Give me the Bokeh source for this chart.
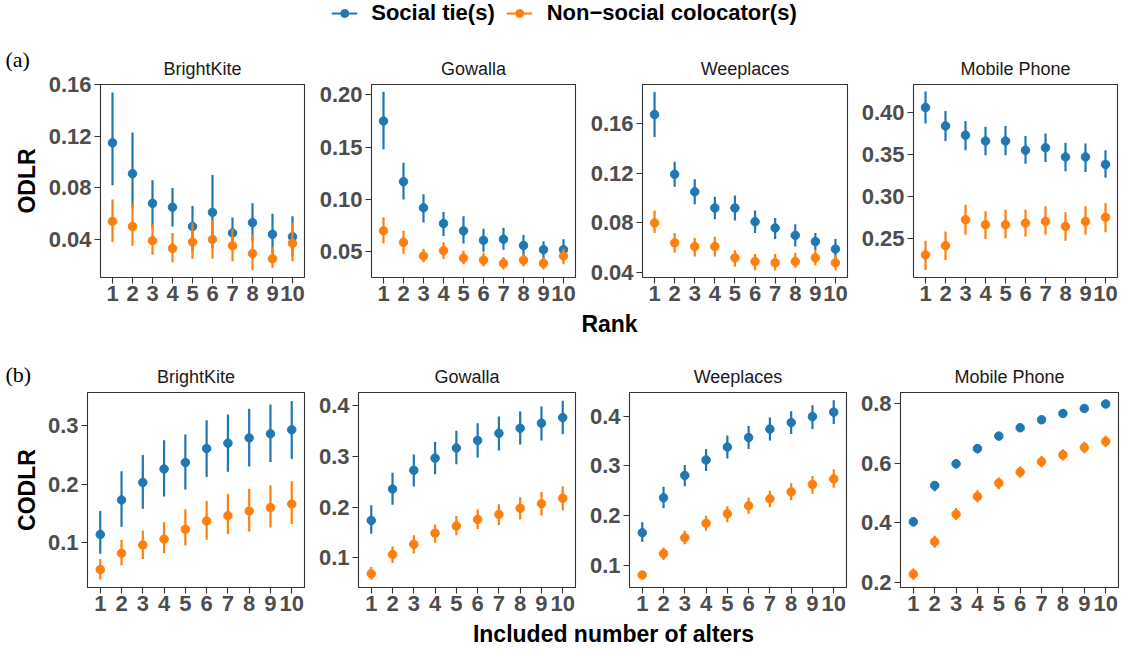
import math
from bokeh.plotting import figure
from bokeh.layouts import column, row
from bokeh.models import (Range1d, FixedTicker, NumeralTickFormatter, Legend,
                          LegendItem, ColumnDataSource)
from bokeh.core.properties import value
from bokeh.embed import file_html
from bokeh.resources import INLINE

BLUE = "#1F77B4"
ORANGE = "#FF7F0E"
FONT = "Liberation Sans"

ranks = [1, 2, 3, 4, 5, 6, 7, 8, 9, 10]
rank_ticks = ranks
datasets = ["BrightKite", "Gowalla", "Weeplaces", "Mobile Phone"]
series_names = ["Social tie(s)", "Non\u2212social colocator(s)"]

# ---------------- (a) ODLR by rank ----------------
a_bk_soc = [0.115, 0.091, 0.068, 0.065, 0.050, 0.061, 0.045, 0.053, 0.044, 0.042]
a_bk_soc_lo = [0.082, 0.064, 0.049, 0.050, 0.031, 0.033, 0.035, 0.039, 0.029, 0.027]
a_bk_soc_hi = [0.154, 0.123, 0.086, 0.080, 0.066, 0.090, 0.057, 0.068, 0.060, 0.058]
a_bk_non = [0.054, 0.050, 0.039, 0.033, 0.038, 0.040, 0.035, 0.029, 0.025, 0.037]
a_bk_non_lo = [0.038, 0.035, 0.028, 0.022, 0.025, 0.025, 0.023, 0.016, 0.018, 0.023]
a_bk_non_hi = [0.071, 0.068, 0.052, 0.045, 0.053, 0.055, 0.048, 0.044, 0.034, 0.053]

a_gw_soc = [0.175, 0.117, 0.092, 0.077, 0.070, 0.061, 0.062, 0.056, 0.052, 0.052]
a_gw_soc_lo = [0.148, 0.100, 0.078, 0.065, 0.058, 0.050, 0.052, 0.046, 0.043, 0.042]
a_gw_soc_hi = [0.203, 0.135, 0.105, 0.088, 0.084, 0.072, 0.073, 0.066, 0.060, 0.062]
a_gw_non = [0.070, 0.059, 0.046, 0.051, 0.044, 0.042, 0.039, 0.042, 0.039, 0.046]
a_gw_non_lo = [0.058, 0.048, 0.040, 0.043, 0.038, 0.036, 0.033, 0.036, 0.033, 0.038]
a_gw_non_hi = [0.083, 0.070, 0.053, 0.059, 0.051, 0.049, 0.045, 0.048, 0.045, 0.053]

a_wp_soc = [0.167, 0.119, 0.105, 0.092, 0.092, 0.081, 0.076, 0.070, 0.065, 0.059]
a_wp_soc_lo = [0.149, 0.109, 0.095, 0.083, 0.082, 0.072, 0.067, 0.061, 0.058, 0.049]
a_wp_soc_hi = [0.185, 0.129, 0.115, 0.101, 0.102, 0.090, 0.084, 0.079, 0.072, 0.067]
a_wp_non = [0.080, 0.064, 0.061, 0.061, 0.052, 0.049, 0.048, 0.049, 0.052, 0.048]
a_wp_non_lo = [0.072, 0.056, 0.053, 0.053, 0.045, 0.042, 0.042, 0.044, 0.046, 0.042]
a_wp_non_hi = [0.090, 0.072, 0.068, 0.069, 0.058, 0.055, 0.055, 0.056, 0.058, 0.054]

a_mp_soc = [0.406, 0.384, 0.373, 0.366, 0.366, 0.355, 0.358, 0.347, 0.347, 0.338]
a_mp_soc_lo = [0.387, 0.366, 0.355, 0.349, 0.349, 0.339, 0.341, 0.330, 0.329, 0.322]
a_mp_soc_hi = [0.425, 0.402, 0.390, 0.383, 0.384, 0.372, 0.375, 0.364, 0.363, 0.355]
a_mp_non = [0.230, 0.241, 0.272, 0.266, 0.266, 0.268, 0.270, 0.264, 0.270, 0.275]
a_mp_non_lo = [0.212, 0.224, 0.254, 0.249, 0.250, 0.252, 0.254, 0.247, 0.254, 0.257]
a_mp_non_hi = [0.247, 0.258, 0.290, 0.282, 0.284, 0.284, 0.288, 0.281, 0.288, 0.292]

# ---------------- (b) CODLR by number of alters ----------------
b_bk_soc = [0.114, 0.173, 0.203, 0.226, 0.237, 0.261, 0.270, 0.279, 0.286, 0.293]
b_bk_soc_lo = [0.081, 0.127, 0.158, 0.179, 0.191, 0.212, 0.221, 0.230, 0.238, 0.243]
b_bk_soc_hi = [0.154, 0.222, 0.250, 0.275, 0.285, 0.309, 0.319, 0.329, 0.336, 0.342]
b_bk_non = [0.054, 0.082, 0.096, 0.106, 0.123, 0.137, 0.146, 0.154, 0.160, 0.166]
b_bk_non_lo = [0.037, 0.061, 0.072, 0.082, 0.095, 0.105, 0.115, 0.119, 0.126, 0.132]
b_bk_non_hi = [0.072, 0.105, 0.121, 0.135, 0.157, 0.171, 0.183, 0.192, 0.198, 0.205]

b_gw_soc = [0.174, 0.236, 0.273, 0.297, 0.317, 0.332, 0.346, 0.356, 0.366, 0.377]
b_gw_soc_lo = [0.148, 0.205, 0.241, 0.265, 0.285, 0.298, 0.312, 0.324, 0.332, 0.344]
b_gw_soc_hi = [0.204, 0.268, 0.304, 0.329, 0.351, 0.366, 0.379, 0.389, 0.399, 0.410]
b_gw_non = [0.069, 0.107, 0.127, 0.149, 0.163, 0.176, 0.186, 0.198, 0.207, 0.218]
b_gw_non_lo = [0.057, 0.090, 0.109, 0.130, 0.145, 0.157, 0.165, 0.176, 0.184, 0.194]
b_gw_non_hi = [0.082, 0.123, 0.145, 0.166, 0.183, 0.196, 0.206, 0.220, 0.230, 0.241]

b_wp_soc = [0.166, 0.236, 0.281, 0.312, 0.338, 0.357, 0.374, 0.387, 0.399, 0.408]
b_wp_soc_lo = [0.148, 0.215, 0.259, 0.290, 0.315, 0.334, 0.351, 0.364, 0.374, 0.384]
b_wp_soc_hi = [0.187, 0.258, 0.302, 0.334, 0.361, 0.380, 0.397, 0.410, 0.422, 0.432]
b_wp_non = [0.081, 0.124, 0.156, 0.185, 0.204, 0.220, 0.234, 0.248, 0.263, 0.274]
b_wp_non_lo = [0.074, 0.111, 0.143, 0.170, 0.187, 0.204, 0.217, 0.231, 0.244, 0.256]
b_wp_non_hi = [0.089, 0.136, 0.170, 0.200, 0.219, 0.236, 0.250, 0.265, 0.280, 0.293]

b_mp_soc = [0.404, 0.526, 0.599, 0.650, 0.692, 0.720, 0.747, 0.768, 0.785, 0.800]
b_mp_soc_lo = [0.388, 0.507, 0.583, 0.634, 0.678, 0.706, 0.733, 0.755, 0.773, 0.788]
b_mp_soc_hi = [0.419, 0.540, 0.615, 0.665, 0.706, 0.733, 0.759, 0.782, 0.797, 0.811]
b_mp_non = [0.228, 0.337, 0.429, 0.489, 0.534, 0.571, 0.606, 0.629, 0.654, 0.674]
b_mp_non_lo = [0.209, 0.317, 0.410, 0.470, 0.513, 0.552, 0.587, 0.610, 0.634, 0.655]
b_mp_non_hi = [0.247, 0.357, 0.450, 0.510, 0.553, 0.591, 0.625, 0.648, 0.673, 0.693]

# y-axis ticks per panel
a_yticks = [[0.04, 0.08, 0.12, 0.16], [0.05, 0.10, 0.15, 0.20],
            [0.04, 0.08, 0.12, 0.16], [0.25, 0.30, 0.35, 0.40]]
b_yticks = [[0.1, 0.2, 0.3], [0.1, 0.2, 0.3, 0.4],
            [0.1, 0.2, 0.3, 0.4], [0.2, 0.4, 0.6, 0.8]]
a_yranges = [(0.0104, 0.1603), (0.0254, 0.2099), (0.0362, 0.1911), (0.203, 0.4335)]
b_yranges = [(0.0234, 0.3566), (0.0417, 0.4265), (0.056, 0.4474), (0.183, 0.8386)]


def strip(w, h, xr=None, yr=None):
    p = figure(width=w, height=h, x_range=Range1d(0, xr or w), y_range=Range1d(0, yr or h),
               x_axis_type=None, y_axis_type=None, output_backend="svg",
               toolbar_location=None, min_border=0, min_border_left=0,
               min_border_right=0, min_border_top=0, min_border_bottom=0)
    p.outline_line_color = None
    p.xgrid.visible = False
    p.ygrid.visible = False
    return p


def panel(title, yr, yticks, fmt, w, h, bl, br, bt, bb, soc, non):
    p = figure(width=w, height=h, x_range=Range1d(0.4, 10.6), y_range=Range1d(*yr),
               output_backend="svg", toolbar_location=None, title=title,
               min_border_left=bl, min_border_right=br, min_border_top=bt,
               min_border_bottom=bb)
    p.title.align = "center"
    p.title.text_font = FONT
    p.title.text_font_size = "18px"
    p.title.text_font_style = "normal"
    p.title.text_color = "#1A1A1A"
    p.title.standoff = 11
    p.xgrid.visible = False
    p.ygrid.visible = False
    p.outline_line_color = "#333333"
    p.outline_line_width = 1.1
    p.outline_line_alpha = 1.0
    p.xaxis.ticker = FixedTicker(ticks=rank_ticks)
    p.yaxis.ticker = FixedTicker(ticks=yticks)
    p.yaxis.formatter = NumeralTickFormatter(format=fmt)
    for ax in (p.xaxis, p.yaxis):
        ax.axis_line_color = None
        ax.major_tick_line_color = "#333333"
        ax.major_tick_line_width = 1.1
        ax.major_tick_out = 6
        ax.major_tick_in = 0
        ax.minor_tick_line_color = None
        ax.major_label_text_font = FONT
        ax.major_label_text_font_size = "22px"
        ax.major_label_text_font_style = "bold"
        ax.major_label_text_color = "#4D4D4D"
    p.xaxis.major_label_standoff = 2
    p.yaxis.major_label_standoff = 3
    for (m, lo, hi), col in ((soc, BLUE), (non, ORANGE)):
        src = ColumnDataSource(dict(x=ranks, m=m, lo=lo, hi=hi))
        p.segment(x0="x", y0="lo", x1="x", y1="hi", source=src,
                  line_color=col, line_width=2.2)
        p.scatter(x="x", y="m", source=src, size=8.5, color=col)
    return p


a_data = [((a_bk_soc, a_bk_soc_lo, a_bk_soc_hi), (a_bk_non, a_bk_non_lo, a_bk_non_hi)),
          ((a_gw_soc, a_gw_soc_lo, a_gw_soc_hi), (a_gw_non, a_gw_non_lo, a_gw_non_hi)),
          ((a_wp_soc, a_wp_soc_lo, a_wp_soc_hi), (a_wp_non, a_wp_non_lo, a_wp_non_hi)),
          ((a_mp_soc, a_mp_soc_lo, a_mp_soc_hi), (a_mp_non, a_mp_non_lo, a_mp_non_hi))]
b_data = [((b_bk_soc, b_bk_soc_lo, b_bk_soc_hi), (b_bk_non, b_bk_non_lo, b_bk_non_hi)),
          ((b_gw_soc, b_gw_soc_lo, b_gw_soc_hi), (b_gw_non, b_gw_non_lo, b_gw_non_hi)),
          ((b_wp_soc, b_wp_soc_lo, b_wp_soc_hi), (b_wp_non, b_wp_non_lo, b_wp_non_hi)),
          ((b_mp_soc, b_mp_soc_lo, b_mp_soc_hi), (b_mp_non, b_mp_non_lo, b_mp_non_hi))]

# layout geometry (outer width, left border, right border)
a_geom = [(270, 60, 6), (270, 61, 5), (272, 62, 5), (276, 61, 11)]
b_geom = [(270, 47, 6), (270, 48, 5), (271, 49, 5), (277, 49, 10)]
HDR_H = 30
A_H, A_TOP, A_BOT = 280, 54, 33
B_H, B_TOP, B_BOT = 284, 56, 33

a_panels = [panel(datasets[i], a_yranges[i], a_yticks[i], "0.00", a_geom[i][0], A_H,
                  a_geom[i][1], a_geom[i][2], A_TOP, A_BOT, a_data[i][0], a_data[i][1])
            for i in range(4)]
b_panels = [panel(datasets[i], b_yranges[i], b_yticks[i], "0.0", b_geom[i][0], B_H,
                  b_geom[i][1], b_geom[i][2], B_TOP, B_BOT, b_data[i][0], b_data[i][1])
            for i in range(4)]

# header with legend
nan = float("nan")
hdr = strip(1128, HDR_H)
r1 = hdr.line(x=[nan, nan], y=[nan, nan], line_color=BLUE, line_width=2.2)
r2 = hdr.scatter(x=[nan], y=[nan], color=BLUE, size=8)
r3 = hdr.line(x=[nan, nan], y=[nan, nan], line_color=ORANGE, line_width=2.2)
r4 = hdr.scatter(x=[nan], y=[nan], color=ORANGE, size=8)
legend = Legend(items=[LegendItem(label=series_names[0], renderers=[r1, r2]),
                       LegendItem(label=series_names[1], renderers=[r3, r4])],
                orientation="horizontal", location="top_center",
                label_text_font=FONT, label_text_font_size="22px",
                label_text_font_style="bold", label_text_color="#000000",
                glyph_width=26, glyph_height=20, label_standoff=14, spacing=12,
                padding=0, margin=0, border_line_color=None, background_fill_alpha=0)
hdr.add_layout(legend)

TXT = dict(text_font=value(FONT), text_font_size=value("23px"),
           text_font_style="bold", text_color="#000000",
           text_align="center", text_baseline="middle")


def side_strip(h, tag, label, tag_standoff):
    s = strip(40, h, xr=40, yr=1)
    s.title.text = tag
    s.title.align = "left"
    s.title.offset = 5
    s.title.text_font = "Liberation Serif"
    s.title.text_font_size = "22px"
    s.title.text_font_style = "normal"
    s.title.text_color = "#000000"
    s.title.standoff = tag_standoff
    s.text(x=[26], y=[0.5], text=[label], angle=math.pi / 2, **TXT)
    return s


left_a = side_strip(A_H, "(a)", "ODLR", 25)
left_b = side_strip(B_H, "(b)", "CODLR", 12)

rank_strip = strip(1128, 26)
rank_strip.text(x=[609], y=[13], text=["Rank"], **TXT)

xl_strip = strip(1128, 30)
xl_strip.text(x=[613], y=[17], text=["Included number of alters"], **TXT)

layout = column(hdr,
                row(left_a, *a_panels, spacing=0),
                rank_strip,
                row(left_b, *b_panels, spacing=0),
                xl_strip, spacing=0)

open("out.html", "w").write(file_html(layout, INLINE))
